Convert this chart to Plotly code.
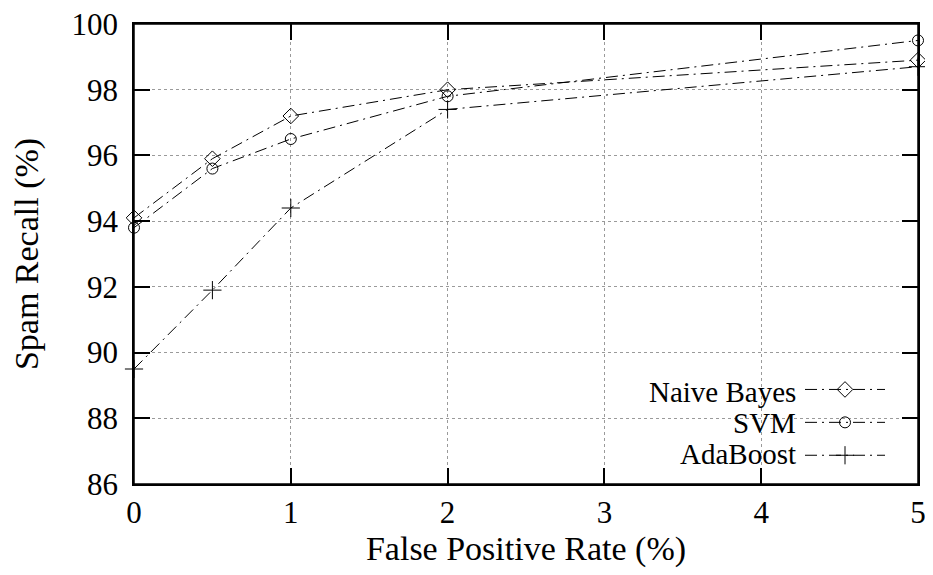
import plotly.graph_objects as go

# ---- data ----
fpr = [0, 0.5, 1, 2, 5]                      # False Positive Rate (%)
naive_bayes = [94.1, 95.9, 97.2, 98.0, 98.9]  # Spam Recall (%)
svm = [93.8, 95.6, 96.5, 97.8, 99.5]
adaboost = [89.5, 91.9, 94.4, 97.4, 98.7]
series_names = ["Naive Bayes", "SVM", "AdaBoost"]
x_ticks = [0, 1, 2, 3, 4, 5]
y_ticks = [86, 88, 90, 92, 94, 96, 98, 100]

FONT = "Liberation Serif"
DASH = "12px,5px,2px,5px"

series = [naive_bayes, svm, adaboost]
symbols = ["diamond-open", "circle-open", "cross-thin-open"]
sizes = [12, 11, 13]

fig = go.Figure()
for name, vals, sym, sz in zip(series_names, series, symbols, sizes):
    fig.add_trace(go.Scatter(
        x=fpr, y=vals, mode="lines+markers", name="",
        legendgroup=name,
        line=dict(color="black", width=1, dash=DASH),
        marker=dict(symbol=sym, size=sz, color="black", line=dict(color="black", width=1)),
        cliponaxis=False,
    ))

axis_common = dict(
    showline=True, linecolor="black", linewidth=1.5, mirror="ticks",
    ticks="inside", ticklen=16, tickwidth=1.5, tickcolor="black",
    showgrid=True, gridcolor="#9a9a9a", griddash="dot", gridwidth=1,
    zeroline=False, automargin=False, ticklabeloverflow="allow",
    tickfont=dict(family=FONT, size=31, color="black"),
)

fig.update_xaxes(range=[0, 5], tickvals=x_ticks, ticktext=[str(t) for t in x_ticks],
                 ticklabelstandoff=0,
                 title=dict(text="False Positive Rate (%)", font=dict(family=FONT, size=34, color="black"), standoff=0),
                 **axis_common)
fig.update_yaxes(range=[86, 100], tickvals=y_ticks, ticktext=[str(t) for t in y_ticks],
                 ticklabelstandoff=8,
                 title=dict(text="Spam Recall (%)", font=dict(family=FONT, size=34, color="black"), standoff=28),
                 **axis_common)

# white box behind the legend (above grid, below traces)
fig.add_shape(type="rect", xref="paper", yref="paper", x0=0.6416, x1=1, y0=0, y1=0.2326,
              fillcolor="white", line=dict(width=0), layer="between")
# frame round the plot area
fig.add_shape(type="rect", xref="paper", yref="paper", x0=0, x1=1, y0=0, y1=1,
              fillcolor="rgba(0,0,0,0)", line=dict(color="black", width=1.5), layer="above")

# legend labels sit to the left of their line samples, as in the reference
label_px = [384, 415, 446]          # centres in figure pixels (plot spans 16..476)
label_y = [(476 - p) / 460 for p in label_px]
for name, yy in zip(series_names, label_y):
    fig.add_annotation(text=name, xref="paper", yref="paper", x=0.846, y=yy,
                       xanchor="right", yanchor="middle", showarrow=False, borderpad=0,
                       font=dict(family=FONT, size=29, color="black"))

# the page body adds an 8px offset, so the figure is drawn 8px smaller
fig.update_layout(
    width=925, height=567,
    margin=dict(l=126, r=15, t=16, b=91),
    paper_bgcolor="white", plot_bgcolor="white",
    showlegend=True,
    legend=dict(x=0.8495, y=(476 - 360) / 460, xanchor="left", yanchor="top",
                bgcolor="rgba(0,0,0,0)", borderwidth=0, itemwidth=80,
                font=dict(family=FONT, size=23, color="black"),
                tracegroupgap=0),
)

fig.write_html("out.html")
